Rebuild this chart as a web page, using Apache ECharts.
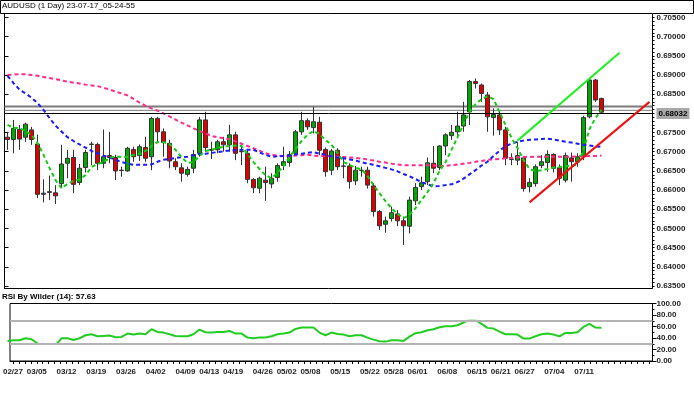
<!DOCTYPE html>
<html><head><meta charset="utf-8">
<script src="https://cdn.jsdelivr.net/npm/echarts@6/dist/echarts.min.js"></script>
<style>html,body{margin:0;padding:0;background:#fff}#c{width:694px;height:398px}</style>
</head><body><div id="c"></div>
<script>
const titleText = 'AUDUSD (1 Day) 23-07-17_05-24-55';
const dates = [
'02/27','02/28','03/01','03/02',
'03/05','03/06','03/07','03/08','03/09',
'03/12','03/13','03/14','03/15','03/16',
'03/19','03/20','03/21','03/22','03/23',
'03/26','03/27','03/28','03/29','03/30',
'04/02','04/03','04/04','04/05','04/06',
'04/09','04/10','04/11','04/12','04/13',
'04/16','04/17','04/18','04/19','04/20',
'04/23','04/24','04/25','04/26','04/27',
'04/30','05/01','05/02','05/03','05/04',
'05/07','05/08','05/09','05/10','05/11',
'05/14','05/15','05/16','05/17','05/18',
'05/21','05/22','05/23','05/24','05/25',
'05/28','05/29','05/30','05/31','06/01',
'06/04','06/05','06/06','06/07','06/08',
'06/11','06/12','06/13','06/14','06/15',
'06/18','06/19','06/20','06/21','06/22',
'06/25','06/26','06/27','06/28','06/29',
'07/02','07/03','07/04','07/05','07/06',
'07/09','07/10','07/11','07/12','07/13',
'07/16'];
const futureSlots = ['07/17','07/18','07/19','07/20','07/23','07/24','07/25','07/26'];
const tickLabels = ['02/27','03/05','03/12','03/19','03/26','04/02','04/09','04/13','04/19','04/26','05/02','05/08','05/15','05/22','05/28','06/01','06/08','06/15','06/21','06/27','07/04','07/11'];

const opens = [
0.6738,0.6732,0.6758,0.6738,0.6757,0.6720,0.6592,0.6594,0.6593,0.6617,
0.6670,0.6685,0.6620,0.6659,0.6719,0.6719,0.6670,0.6690,0.6685,0.6652,
0.6650,0.6706,0.6690,0.6711,0.6687,0.6787,0.6752,0.6722,0.6674,0.6658,
0.6641,0.6657,0.6696,0.6783,0.6706,0.6705,0.6726,0.6718,0.6744,0.6701,
0.6696,0.6628,0.6605,0.6626,0.6616,0.6633,0.6664,0.6672,0.6696,0.6752,
0.6781,0.6763,0.6777,0.6706,0.6652,0.6704,0.6663,0.6663,0.6624,0.6652,
0.6652,0.6611,0.6544,0.6511,0.6526,0.6538,0.6520,0.6506,0.6572,0.6609,
0.6622,0.6670,0.6659,0.6715,0.6742,0.6752,0.6767,0.6804,0.6883,0.6874,
0.6848,0.6789,0.6796,0.6757,0.6680,0.6678,0.6684,0.6609,0.6617,0.6664,
0.6672,0.6693,0.6658,0.6626,0.6684,0.6674,0.6687,0.6791,0.6887,0.6839];
const closes = [
0.6732,0.6761,0.6733,0.6772,0.6732,0.6589,0.6589,0.6596,0.6585,0.6668,
0.6683,0.6615,0.6657,0.6698,0.6720,0.6670,0.6687,0.6685,0.6650,0.6651,
0.6709,0.6687,0.6713,0.6683,0.6787,0.6752,0.6724,0.6676,0.6661,0.6644,
0.6654,0.6693,0.6783,0.6711,0.6704,0.6726,0.6718,0.6744,0.6696,0.6700,
0.6628,0.6606,0.6631,0.6620,0.6631,0.6664,0.6674,0.6693,0.6752,0.6781,
0.6765,0.6778,0.6704,0.6648,0.6702,0.6661,0.6662,0.6622,0.6652,0.6651,
0.6613,0.6544,0.6507,0.6520,0.6541,0.6520,0.6507,0.6574,0.6607,0.6619,
0.6671,0.6657,0.6715,0.6744,0.6751,0.6767,0.6796,0.6883,0.6878,0.6852,
0.6791,0.6797,0.6757,0.6683,0.6681,0.6690,0.6604,0.6620,0.6661,0.6674,
0.6693,0.6657,0.6631,0.6690,0.6674,0.6687,0.6789,0.6887,0.6835,0.68032];
const lows = [
0.6705,0.6696,0.6705,0.6726,0.6718,0.6579,0.6568,0.6574,0.6564,0.6605,
0.6631,0.6592,0.6613,0.6646,0.6665,0.6652,0.6657,0.6670,0.6626,0.6635,
0.6648,0.6674,0.6676,0.6674,0.6652,0.6726,0.6687,0.6657,0.6652,0.6622,
0.6635,0.6644,0.6687,0.6700,0.6681,0.6696,0.6700,0.6700,0.6678,0.6665,
0.6618,0.6592,0.6592,0.6572,0.6605,0.6622,0.6652,0.6661,0.6692,0.6744,
0.6757,0.6748,0.6691,0.6635,0.6639,0.6652,0.6631,0.6604,0.6613,0.6635,
0.6604,0.6531,0.6496,0.6489,0.6518,0.6506,0.6457,0.6487,0.6561,0.6600,
0.6613,0.6644,0.6652,0.6691,0.6731,0.6735,0.6752,0.6770,0.6865,0.6830,
0.6752,0.6742,0.6744,0.6665,0.6665,0.6665,0.6596,0.6594,0.6609,0.6657,
0.6648,0.6646,0.6613,0.6620,0.6622,0.6661,0.6678,0.6787,0.6830,0.6801];
const highs = [
0.6752,0.6783,0.6770,0.6776,0.6765,0.6745,0.6628,0.6638,0.6613,0.6718,
0.6705,0.6705,0.6668,0.6705,0.6726,0.6724,0.6758,0.6752,0.6692,0.6661,
0.6713,0.6713,0.6719,0.6739,0.6791,0.6791,0.6761,0.6731,0.6683,0.6670,
0.6661,0.6705,0.6791,0.6804,0.6726,0.6731,0.6739,0.6770,0.6752,0.6718,
0.6705,0.6631,0.6635,0.6661,0.6644,0.6670,0.6713,0.6702,0.6757,0.6804,
0.6787,0.6817,0.6791,0.6711,0.6707,0.6709,0.6687,0.6670,0.6663,0.6661,
0.6661,0.6618,0.6548,0.6531,0.6557,0.6548,0.6531,0.6583,0.6618,0.6635,
0.6685,0.6715,0.6717,0.6748,0.6770,0.6804,0.6830,0.6887,0.6891,0.6878,
0.6856,0.6813,0.6804,0.6765,0.6696,0.6726,0.6687,0.6631,0.6667,0.6691,
0.6704,0.6696,0.6667,0.6698,0.6698,0.6696,0.6794,0.6893,0.6890,0.6841];

const maBlue = [
0.6898,0.6879,0.6862,0.6852,0.6841,0.6827,0.6809,0.6788,0.6768,0.6753,
0.6738,0.6728,0.6719,0.6711,0.6702,0.6696,0.6690,0.6685,0.6679,0.6673,
0.6669,0.6666,0.6666,0.6666,0.6667,0.6674,0.6679,0.6681,0.6684,0.6686,
0.6687,0.6691,0.6694,0.6695,0.6697,0.6699,0.6701,0.6703,0.6704,0.6705,
0.6705,0.6705,0.6698,0.6692,0.6687,0.6688,0.6689,0.6690,0.6693,0.6695,
0.6697,0.6699,0.6695,0.6692,0.6688,0.6685,0.6683,0.6680,0.6677,0.6673,
0.6669,0.6666,0.6662,0.6658,0.6654,0.6649,0.6642,0.6636,0.6629,0.6621,
0.6615,0.6610,0.6611,0.6613,0.6615,0.6621,0.6630,0.6641,0.6652,0.6664,
0.6674,0.6689,0.6702,0.6715,0.6721,0.6726,0.6729,0.6731,0.6732,0.6733,
0.6734,0.6732,0.6729,0.6726,0.6724,0.6721,0.6718,0.6716,0.6714,0.6713];
const maPink = [
0.6900,0.6901,0.6902,0.6902,0.6900,0.6898,0.6895,0.6892,0.6889,0.6886,
0.6883,0.6880,0.6878,0.6875,0.6873,0.6871,0.6867,0.6862,0.6857,0.6852,
0.6847,0.6838,0.6828,0.6820,0.6813,0.6807,0.6800,0.6792,0.6784,0.6776,
0.6769,0.6761,0.6754,0.6748,0.6741,0.6738,0.6735,0.6733,0.6727,0.6721,
0.6715,0.6709,0.6703,0.6696,0.6692,0.6690,0.6689,0.6689,0.6690,0.6691,
0.6692,0.6690,0.6689,0.6688,0.6688,0.6687,0.6686,0.6685,0.6684,0.6682,
0.6680,0.6677,0.6674,0.6672,0.6669,0.6667,0.6665,0.6665,0.6665,0.6665,
0.6665,0.6664,0.6663,0.6663,0.6665,0.6667,0.6669,0.6671,0.6674,0.6676,
0.6679,0.6680,0.6681,0.6683,0.6684,0.6685,0.6686,0.6686,0.6687,0.6687,
0.6687,0.6687,0.6687,0.6687,0.6687,0.6688,0.6688,0.6689,0.6689,0.6690];
const maGreen = [
0.6770,0.6762,0.6762,0.6754,0.6744,0.6723,0.6692,0.6658,0.6626,0.6605,
0.6616,0.6624,0.6628,0.6639,0.6660,0.6668,0.6673,0.6684,0.6688,0.6686,
0.6686,0.6692,0.6694,0.6702,0.6715,0.6725,0.6725,0.6720,0.6705,0.6686,
0.6671,0.6673,0.6689,0.6702,0.6705,0.6710,0.6713,0.6715,0.6716,0.6715,
0.6694,0.6673,0.6655,0.6639,0.6631,0.6645,0.6663,0.6686,0.6707,0.6728,
0.6744,0.6754,0.6746,0.6731,0.6718,0.6697,0.6673,0.6666,0.6658,0.6654,
0.6637,0.6613,0.6592,0.6571,0.6553,0.6538,0.6527,0.6535,0.6553,0.6574,
0.6595,0.6618,0.6650,0.6673,0.6705,0.6738,0.6772,0.6804,0.6824,0.6837,
0.6845,0.6837,0.6804,0.6770,0.6736,0.6710,0.6679,0.6655,0.6650,0.6652,
0.6655,0.6659,0.6660,0.6662,0.6663,0.6667,0.6705,0.6759,0.6788,0.6809];
const rsi = [
34.9,36,36,39.5,37.8,30.5,24,22,27,39.5,
39.5,36.6,39.5,44.8,46.5,43,43.6,44.2,41.3,41.9,
47.7,45.9,47.7,46.5,55.2,50.6,49.4,46.5,43.6,43,
43,46.5,54.7,50,49.4,50.6,50.6,52.3,47.7,47.7,
40.7,39.5,40.7,40.7,43,46.5,47.7,49.4,55.8,58.1,
58.1,58.1,49.4,44.8,49.4,47.1,45.9,43,44.8,44.8,
40.7,37.2,34.3,33.7,36,36,34.9,42.4,48.3,50,
53.5,55.2,58.7,60.5,60.5,62.2,66.9,72,71.5,64.5,
57.6,56.4,51.2,46.5,46.5,45.9,39,39,43,46.5,
47.7,45.9,43,48.8,48.8,50,59.3,64.5,58.1,57.63];

const priceTicks = [0.635,0.64,0.645,0.65,0.655,0.66,0.665,0.67,0.675,0.68,0.685,0.69,0.695,0.70,0.705];
const rsiTicks = [0,20,40,60,80,100];
const rsiLevels = [70,30];
const lastPrice = 0.68032;
const levelLines = [0.6818,0.6808];
const trendGreen = [[85,0.6729],[102,0.6958]];
const trendRed = [[87,0.6568],[107,0.6830]];

const cats = dates.concat(futureSlots);
const candles = dates.map((d,i)=>[opens[i],closes[i],lows[i],highs[i]]);
const minorPrice = []; for (let k=635;k<=705;k++) minorPrice.push(k/1000);
const minorRsi = []; for (let k=0;k<=100;k+=10) minorRsi.push(k);

const FONT = 'Liberation Sans';
const lblStyle = {fontSize:8, fontWeight:'bold', color:'#222', fontFamily:FONT};
const G = {left:4.5, right:41.5};
const chart = echarts.init(document.getElementById('c'), null, {renderer:'canvas'});
const rsiTop = 303.5, rsiH = 57.5;
function spanLine(v, color, width) {
  return {type:'line', xAxisIndex:3, yAxisIndex:0, data:[[0,v],[1,v]], symbol:'none', z:1,
    lineStyle:{color:color, width:width, type:'solid'}};
}
chart.setOption({
  animation:false,
  backgroundColor:'#fff',
  title:[
    {text:titleText, left:2, top:2, padding:0, textStyle:{fontSize:8, fontWeight:'normal', color:'#000', fontFamily:FONT}},
    {text:'RSI By Wilder (14): ' + rsi[rsi.length-1].toFixed(2), left:2, top:293, padding:0, textStyle:{fontSize:8, fontWeight:'bold', color:'#000', fontFamily:FONT}}
  ],
  graphic:[{type:'rect', shape:{x:0.5,y:0.5,width:693,height:13}, style:{fill:null, stroke:'#000', lineWidth:1}, z:-1}],
  grid:[
    {left:G.left, right:G.right, top:13.5, height:275, show:true, borderColor:'#000', borderWidth:1, backgroundColor:'#fff'},
    {left:G.left, right:G.right, top:rsiTop, height:rsiH, show:true, borderColor:'#000', borderWidth:1, backgroundColor:'#fff'},
    {left:G.left, right:G.right, top:rsiTop + rsiH*0.3, height:rsiH*0.4, show:false}
  ],
  xAxis:[
    {gridIndex:0, type:'category', data:cats, boundaryGap:true, axisLine:{show:false}, axisTick:{show:false}, axisLabel:{show:false}, splitLine:{show:false}},
    {gridIndex:1, type:'category', data:cats, boundaryGap:true,
      axisLine:{show:true, lineStyle:{color:'#000'}},
      axisTick:{show:true, alignWithLabel:true, interval:0, length:3, lineStyle:{color:'#000'}},
      axisLabel:Object.assign({interval:(i,v)=>tickLabels.indexOf(v)>=0, margin:7}, lblStyle),
      splitLine:{show:false}},
    {gridIndex:2, type:'category', data:cats, boundaryGap:true, show:false},
    {gridIndex:0, type:'value', min:0, max:1, show:false}
  ],
  yAxis:[
    {gridIndex:0, type:'value', position:'right', min:0.63435, max:0.70604,
      axisLine:{show:true, lineStyle:{color:'#000'}},
      axisTick:{show:true, customValues:priceTicks, length:4, lineStyle:{color:'#000'}},
      axisLabel:Object.assign({customValues:priceTicks, formatter:v=>v.toFixed(5), margin:4}, lblStyle),
      splitLine:{show:false}},
    {gridIndex:1, type:'value', position:'right', min:0, max:100,
      axisLine:{show:true, lineStyle:{color:'#000'}},
      axisTick:{show:true, customValues:rsiTicks, length:4, lineStyle:{color:'#000'}},
      axisLabel:Object.assign({customValues:rsiTicks, formatter:v=>v.toFixed(2), margin:4}, lblStyle),
      splitLine:{show:false}},
    {gridIndex:2, type:'value', min:30, max:70, show:false},
    {gridIndex:0, type:'value', position:'right', min:0.63435, max:0.70604,
      axisLine:{show:false}, axisLabel:{show:false}, splitLine:{show:false},
      axisTick:{show:true, customValues:minorPrice, length:2, lineStyle:{color:'#000'}}},
    {gridIndex:1, type:'value', position:'right', min:0, max:100,
      axisLine:{show:false}, axisLabel:{show:false}, splitLine:{show:false},
      axisTick:{show:true, customValues:minorRsi, length:2, lineStyle:{color:'#000'}}}
  ],
  series:[
    spanLine(levelLines[0], '#7a7a7a', 2),
    spanLine(levelLines[1], '#7a7a7a', 1),
    {type:'candlestick', xAxisIndex:0, yAxisIndex:0, data:candles, barWidth:4,
      itemStyle:{color:'#00a800', color0:'#e00000', borderColor:'#333', borderColor0:'#333', borderWidth:1},
      markLine:{silent:true, symbol:['none','none'], animation:false,
        data:[
          {yAxis:lastPrice, lineStyle:{color:'#000', width:1, type:'solid'},
            label:{show:true, position:'end', distance:4, formatter:lastPrice.toFixed(5), backgroundColor:'#a8a8a8', padding:[2,2,1,2], color:'#000', fontSize:8, fontWeight:'bold', fontFamily:FONT}},
          [{coord:trendGreen[0], lineStyle:{color:'#22ee22', width:2, type:'solid'}, label:{show:false}}, {coord:trendGreen[1]}],
          [{coord:trendRed[0], lineStyle:{color:'#ee1111', width:2, type:'solid'}, label:{show:false}}, {coord:trendRed[1]}]
        ]}},
    {type:'line', xAxisIndex:0, yAxisIndex:0, data:maPink, symbol:'none', lineStyle:{color:'#ff2a8a', width:2, type:[4,3]}},
    {type:'line', xAxisIndex:0, yAxisIndex:0, data:maBlue, symbol:'none', lineStyle:{color:'#1a1aff', width:2, type:[4,3]}},
    {type:'line', xAxisIndex:0, yAxisIndex:0, data:maGreen, symbol:'none', lineStyle:{color:'#11cc11', width:2, type:[4,3]}},
    {type:'line', xAxisIndex:1, yAxisIndex:1, data:[], symbol:'none',
      markLine:{silent:true, symbol:['none','none'], label:{show:false}, lineStyle:{color:'#b4b4b4', width:2, type:'solid'},
        data:rsiLevels.map(v=>({yAxis:v}))}},
    {type:'line', xAxisIndex:2, yAxisIndex:2, data:rsi, symbol:'none', clip:true, lineStyle:{color:'#22cc22', width:2}}
  ]
});
</script></body></html>
